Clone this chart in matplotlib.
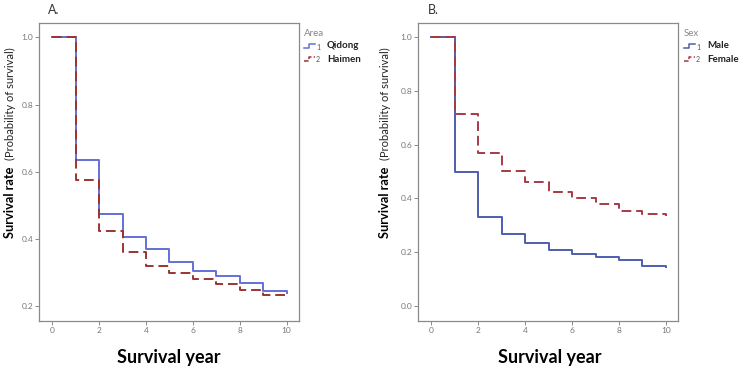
import matplotlib
matplotlib.use('Agg')
import matplotlib.pyplot as plt
from matplotlib.lines import Line2D

plt.rcParams['font.family'] = ['Lato', 'DejaVu Sans']

years = [0, 1, 2, 3, 4, 5, 6, 7, 8, 9, 10]

# Panel A: area
qidong = [1.0, 0.634, 0.472, 0.404, 0.370, 0.329, 0.304, 0.287, 0.266, 0.245, 0.238]
haimen = [1.0, 0.575, 0.424, 0.361, 0.319, 0.296, 0.279, 0.265, 0.248, 0.232, 0.225]

# Panel B: sex
male = [1.0, 0.496, 0.329, 0.266, 0.234, 0.207, 0.191, 0.182, 0.169, 0.149, 0.143]
female = [1.0, 0.713, 0.570, 0.501, 0.461, 0.424, 0.401, 0.379, 0.354, 0.340, 0.332]

blue_a = '#6470d6'
red_a = '#9a3434'
blue_b = '#4e5eae'
red_b = '#a63a44'
grey = '#8a8a8a'

W, H = 740.0, 369.0
fig = plt.figure(figsize=(7.4, 3.69), dpi=100)
axA = fig.add_axes([0.0531, 0.130, 0.351, 0.8075])
axB = fig.add_axes([0.5653, 0.131, 0.3514, 0.8076])


def style(ax, yticks):
    for s in ax.spines.values():
        s.set_color(grey)
        s.set_linewidth(0.9)
    ax.set_xticks([0, 2, 4, 6, 8, 10])
    ax.set_yticks(yticks)
    ax.set_yticklabels(['%.1f' % v for v in yticks])
    ax.tick_params(length=3, width=0.7, color=grey, labelsize=6,
                   labelcolor='#777777', pad=1.5)
    ax.set_xlim(-0.55, 10.53)


# A
axA.step(years, qidong, where='post', color=blue_a, lw=1.4)
axA.step(years, haimen, where='post', color=red_a, lw=1.4, dashes=(5, 2.5))
axA.set_ylim(0.154, 1.043)
style(axA, [0.2, 0.4, 0.6, 0.8, 1.0])

# B
axB.step(years, male, where='post', color=blue_b, lw=1.4)
axB.step(years, female, where='post', color=red_b, lw=1.4, dashes=(5, 2.5))
axB.set_ylim(-0.056, 1.054)
style(axB, [0.0, 0.2, 0.4, 0.6, 0.8, 1.0])

# x labels
for xc in [169, 550]:
    fig.text(xc / W, 1 - 357 / H, 'Survival year', fontsize=13,
             fontweight='bold', ha='center', va='center')

# y labels (bold part + normal part)
for x0 in [10, 385]:
    fig.text(x0 / W, 1 - 238 / H, 'Survival rate', rotation=90, fontsize=9.2,
             fontweight='bold', ha='center', va='bottom')
    fig.text(x0 / W, 1 - 160 / H, '(Probability of survival)', rotation=90,
             fontsize=8.0, ha='center', va='bottom', color='#222222')

fig.text(48 / W, 1 - 10 / H, 'A.', fontsize=9, va='center', color='#333333')
fig.text(428 / W, 1 - 10 / H, 'B.', fontsize=9, va='center', color='#333333')


def legend(x0, title, labels, colors):
    fig.text(x0 / W, 1 - 33 / H, title, fontsize=7, color='#888888', va='center')
    for i, (lab, c) in enumerate(zip(labels, colors)):
        yc = 46 + i * 13
        xs = [x0, x0 + 5, x0 + 5, x0 + 11]
        ys = [yc + 2, yc + 2, yc - 2, yc - 2]
        ls = '-' if i == 0 else (0, (3, 1.5))
        fig.add_artist(Line2D([v / W for v in xs], [1 - v / H for v in ys],
                              color=c, lw=1.1, linestyle=ls,
                              transform=fig.transFigure))
        fig.text((x0 + 12) / W, 1 - (yc + 1) / H, str(i + 1), fontsize=5,
                 color='#555555', va='center')
        fig.text((x0 + 23) / W, 1 - yc / H, lab, fontsize=7,
                 fontweight='bold', color='#222222', va='center')


legend(304, 'Area', ['Qidong', 'Haimen'], [blue_a, red_a])
legend(684, 'Sex', ['Male', 'Female'], [blue_b, red_b])

fig.savefig('out.png', dpi=100)
